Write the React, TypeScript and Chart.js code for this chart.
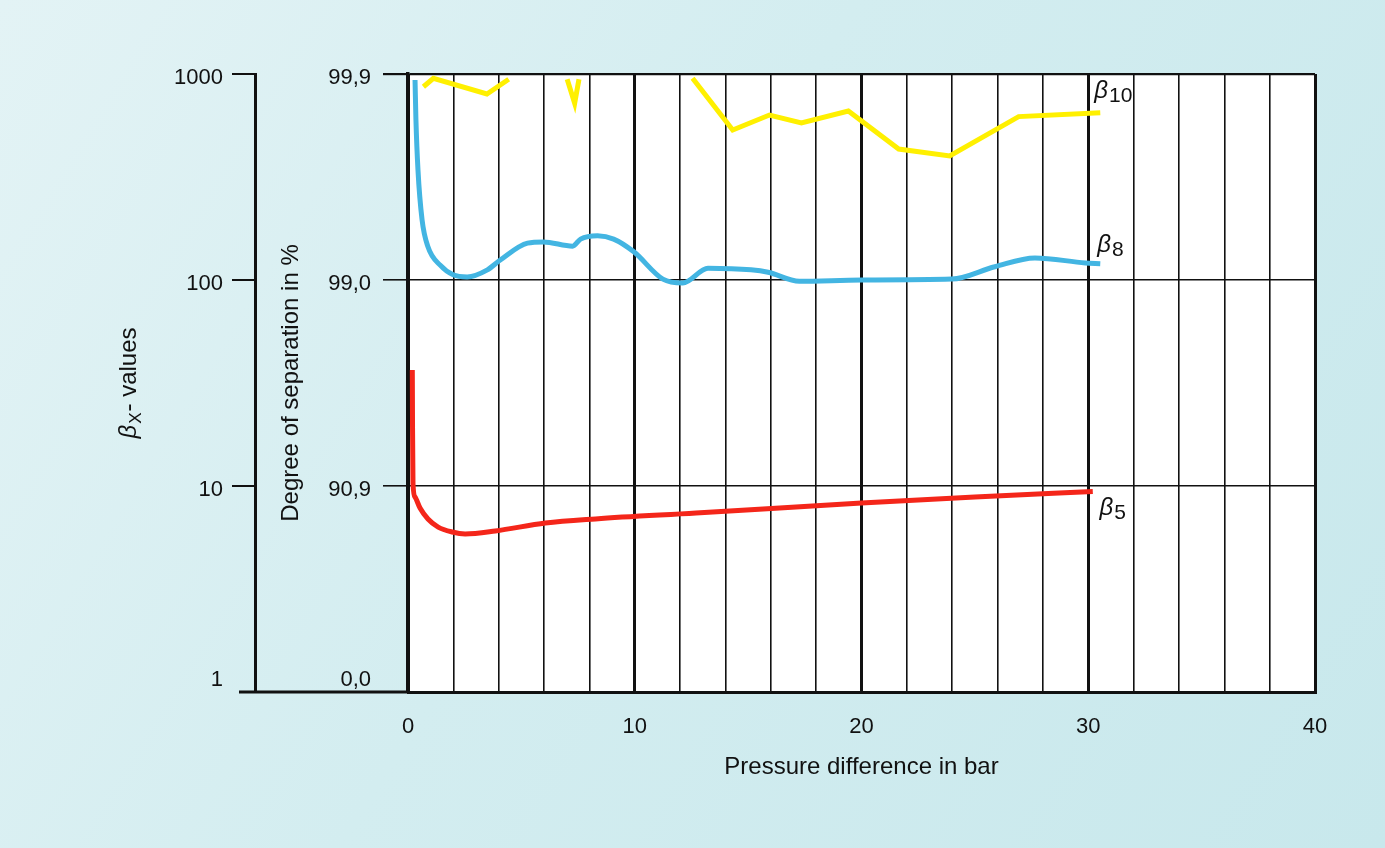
import React, { useEffect, useRef } from 'react';
import { Chart, registerables } from 'chart.js';

Chart.register(...registerables);

const FONT = '"Liberation Sans", Arial, Helvetica, sans-serif';
const INK = '#111111';

// Axis ticks
const betaTickValues = [1, 10, 100, 1000];
const betaTickLabels = ['1', '10', '100', '1000'];
const separationTickLabels = ['0,0', '90,9', '99,0', '99,9'];
const pressureTickValues = [0, 10, 20, 30, 40];
const pressureTickLabels = ['0', '10', '20', '30', '40'];

// β10 (yellow) – broken line, null = gap
const beta10X = [0.68, 1.12, 3.48, 4.44, 5.5, 7.02, 7.35, 7.54, 10.0, 12.55, 14.32, 15.94, 17.35, 19.42, 21.64, 23.89, 26.93, 30.53];
const beta10Y = [867, 953, 800, 943, null, 943, 721, 943, null, 953, 535, 632, 578, 661, 432, 400, 621, 649];

// β8 (blue)
const beta8X = [0.31, 0.35, 0.44, 0.62, 0.88, 1.42, 1.99, 2.61, 3.5, 4.07, 5.27, 5.97, 7.26, 7.61, 8.36, 9.07, 9.96, 11.24, 12.12, 13.23, 15.13, 15.88, 17.26, 20.0, 23.98, 25.88, 27.65, 29.87, 30.53];
const beta8Y = [935, 598, 342, 196, 145, 118, 106, 103.5, 112, 125, 151, 153, 146, 158, 164, 158, 137, 101, 96.7, 114, 112, 109, 98.6, 100, 101, 116, 128, 121, 120];

// β5 (red)
const beta5X = [0.19, 0.2, 0.22, 0.31, 0.53, 0.88, 1.33, 1.95, 2.52, 3.85, 6.06, 8.27, 12.7, 20.0, 25.0, 30.2];
const beta5Y = [36.6, 19.3, 10.3, 8.84, 7.82, 6.92, 6.32, 5.98, 5.85, 6.05, 6.61, 6.92, 7.39, 8.27, 8.84, 9.4];

// Curve labels (anchor in data units)
const curveLabelSubs = ['10', '8', '5'];
const curveLabelX = [30.27, 30.4, 30.5];
const curveLabelY = [827, 148, 7.82];

const toPoints = (xs: number[], ys: (number | null)[]) => xs.map((x, i) => ({ x, y: ys[i] }));

export default function App() {
  const canvasRef = useRef<HTMLCanvasElement>(null);

  useEffect(() => {
    document.body.style.margin = '0';
    const canvas = canvasRef.current;
    if (!canvas) return;

    const backgroundPlugin = {
      id: 'bgPlugin',
      beforeDraw(chart: any) {
        const { ctx, chartArea: a, width, height } = chart;
        ctx.save();
        const g = ctx.createLinearGradient(0, 0, width, height);
        g.addColorStop(0, '#e3f3f5');
        g.addColorStop(0.45, '#d3edf0');
        g.addColorStop(1, '#c8e8ec');
        ctx.fillStyle = g;
        ctx.fillRect(0, 0, width, height);
        ctx.fillStyle = '#ffffff';
        ctx.fillRect(a.left, a.top, a.right - a.left, a.bottom - a.top);
        ctx.restore();
      },
    };

    const decorPlugin = {
      id: 'decorPlugin',
      afterDatasetsDraw(chart: any) {
        const { ctx, scales } = chart;
        ctx.save();
        ctx.fillStyle = INK;
        ctx.textBaseline = 'middle';
        ctx.textAlign = 'left';
        for (let i = 0; i < curveLabelSubs.length; i++) {
          const px = scales.x.getPixelForValue(curveLabelX[i]);
          const py = scales.y.getPixelForValue(curveLabelY[i]);
          ctx.font = `italic 24px ${FONT}`;
          ctx.fillText('β', px, py);
          const w = ctx.measureText('β').width;
          ctx.font = `21px ${FONT}`;
          ctx.fillText(curveLabelSubs[i], px + w + 1, py + 5);
        }
        ctx.restore();
      },
      afterDraw(chart: any) {
        const { ctx, scales, chartArea } = chart;
        const outer = scales.yBeta;
        const yBottom = scales.y.getPixelForValue(1);
        ctx.save();
        // bottom baseline extended to the left under both y axes
        ctx.strokeStyle = INK;
        ctx.lineWidth = 3;
        ctx.beginPath();
        ctx.moveTo(outer.right - 16, yBottom);
        ctx.lineTo(chartArea.left, yBottom);
        ctx.stroke();

        // outer axis title "β_X- values"
        const cy = (chartArea.top + chartArea.bottom) / 2;
        const bx = outer.left + 136;
        ctx.translate(bx, cy);
        ctx.rotate(-Math.PI / 2);
        ctx.fillStyle = INK;
        ctx.textBaseline = 'alphabetic';
        ctx.textAlign = 'left';
        const fBeta = `italic 24px ${FONT}`;
        const fSub = `17px ${FONT}`;
        const fMain = `24px ${FONT}`;
        ctx.font = fBeta;
        const w1 = ctx.measureText('β').width;
        ctx.font = fSub;
        const w2 = ctx.measureText('X').width;
        ctx.font = fMain;
        const w3 = ctx.measureText('- values').width;
        let x0 = -(w1 + w2 + w3 + 2) / 2;
        ctx.font = fBeta;
        ctx.fillText('β', x0, 0);
        x0 += w1 + 1;
        ctx.font = fSub;
        ctx.fillText('X', x0, 5);
        x0 += w2 + 1;
        ctx.font = fMain;
        ctx.fillText('- values', x0, 0);
        ctx.restore();
      },
    };

    const mapBeta = (labels: string[], multiLineBottom: boolean) => (value: number) => {
      const idx = betaTickValues.indexOf(Number(value));
      if (idx < 0) return '';
      const label = labels[idx];
      return multiLineBottom && idx === 0 ? [label, ''] : label;
    };
    const setBetaTicks = (scale: any) => {
      scale.ticks = betaTickValues.map((v) => ({ value: v }));
    };

    const chart = new Chart(canvas, {
      type: 'line',
      data: {
        datasets: [
          {
            label: 'β10',
            data: toPoints(beta10X, beta10Y) as any,
            borderColor: '#fff000',
            borderWidth: 5,
            pointRadius: 0,
            tension: 0,
            spanGaps: false,
            borderJoinStyle: 'miter',
            yAxisID: 'y',
          },
          {
            label: 'β8',
            data: toPoints(beta8X, beta8Y) as any,
            borderColor: '#43b5e2',
            borderWidth: 5,
            pointRadius: 0,
            cubicInterpolationMode: 'monotone',
            yAxisID: 'y',
          },
          {
            label: 'β5',
            data: toPoints(beta5X, beta5Y) as any,
            borderColor: '#f4261a',
            borderWidth: 5,
            pointRadius: 0,
            cubicInterpolationMode: 'monotone',
            yAxisID: 'y',
          },
        ],
      },
      options: {
        responsive: false,
        animation: false,
        devicePixelRatio: 1,
        layout: { padding: { left: 0, right: 70, top: 74, bottom: 0 } },
        plugins: {
          legend: { display: false },
          tooltip: { enabled: false },
          title: { display: false },
        },
        scales: {
          x: {
            type: 'linear',
            position: 'bottom',
            min: 0,
            max: 40,
            offset: false,
            afterFit: (scale: any) => {
              scale.height = 156;
            },
            ticks: {
              stepSize: 2,
              autoSkip: false,
              maxRotation: 0,
              padding: 22,
              color: INK,
              font: { family: FONT, size: 22 },
              callback: (value: any) => {
                const idx = pressureTickValues.indexOf(Number(value));
                return idx >= 0 ? pressureTickLabels[idx] : '';
              },
            },
            grid: {
              color: INK,
              drawTicks: false,
              lineWidth: (ctx: any) => (ctx.tick && ctx.tick.value % 10 === 0 ? 3 : 1.6),
            },
            border: { display: true, color: INK, width: 3 },
            title: {
              display: true,
              text: 'Pressure difference in bar',
              color: INK,
              font: { family: FONT, size: 24 },
              padding: { top: 0, bottom: 66 },
            },
          },
          y: {
            type: 'logarithmic',
            position: 'left',
            weight: 0,
            min: 1,
            max: 1000,
            afterBuildTicks: setBetaTicks,
            afterFit: (scale: any) => {
              scale.width = 153;
            },
            ticks: {
              autoSkip: false,
              padding: 12,
              labelOffset: 4,
              color: INK,
              font: { family: FONT, size: 22, lineHeight: 1.5 },
              callback: mapBeta(separationTickLabels, true) as any,
            },
            grid: {
              color: INK,
              drawTicks: true,
              tickLength: 25,
              lineWidth: (ctx: any) => (ctx.tick && ctx.tick.value === 1000 ? 2.2 : 1.6),
            },
            border: { display: true, color: INK, width: 3.5 },
            title: {
              display: true,
              text: 'Degree of separation in %',
              color: INK,
              font: { family: FONT, size: 24 },
              padding: { top: 22, bottom: 0 },
            },
          },
          yBeta: {
            type: 'logarithmic',
            position: 'left',
            weight: 1,
            min: 1,
            max: 1000,
            afterBuildTicks: setBetaTicks,
            afterFit: (scale: any) => {
              scale.width = 255;
            },
            ticks: {
              autoSkip: false,
              padding: 9,
              labelOffset: 4,
              color: INK,
              font: { family: FONT, size: 22, lineHeight: 1.5 },
              callback: mapBeta(betaTickLabels, true) as any,
            },
            grid: {
              drawOnChartArea: false,
              drawTicks: true,
              tickLength: 23,
              lineWidth: 2,
              color: (ctx: any) => (ctx.tick && ctx.tick.value === 1 ? 'rgba(0,0,0,0)' : INK),
            },
            border: { display: true, color: INK, width: 3 },
            title: { display: false },
          },
        },
      },
      plugins: [backgroundPlugin, decorPlugin],
    });

    return () => {
      chart.destroy();
    };
  }, []);

  return (
    <div style={{ position: 'fixed', left: 0, top: 0, width: 1385, height: 848 }}>
      <canvas ref={canvasRef} width={1385} height={848} style={{ display: 'block' }} />
    </div>
  );
}
